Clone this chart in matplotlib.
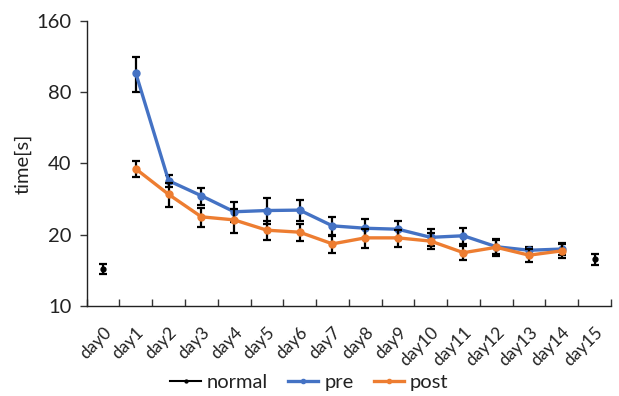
import matplotlib
matplotlib.use("Agg")
import matplotlib.pyplot as plt
import numpy as np

days = ["day0", "day1", "day2", "day3", "day4", "day5", "day6", "day7",
        "day8", "day9", "day10", "day11", "day12", "day13", "day14", "day15"]
normal = [14.4] + [np.nan] * 14 + [15.75]
normal_err = [0.7] + [np.nan] * 14 + [0.9]
pre = [np.nan, 96, 33.8, 29.2, 25.0, 25.3, 25.4, 21.8, 21.3, 21.1, 19.5, 19.8, 17.8, 17.2, 17.4, np.nan]
pre_err = [np.nan, 16, 2.0, 2.4, 2.4, 3.2, 2.6, 2.0, 1.9, 1.8, 1.6, 1.5, 1.2, 0.6, 1.0, np.nan]
post = [np.nan, 37.9, 29.6, 23.8, 23.1, 20.9, 20.5, 18.3, 19.4, 19.4, 18.8, 16.8, 17.7, 16.4, 17.1, np.nan]
post_err = [np.nan, 3.0, 3.5, 2.2, 2.7, 1.9, 1.7, 1.6, 1.8, 1.6, 1.45, 1.1, 1.4, 1.0, 1.2, np.nan]
yticks = [10, 20, 40, 80, 160]

plt.rcParams['font.family'] = ['Lato', 'DejaVu Sans']

fig = plt.figure(figsize=(6.19, 3.96), dpi=100)
ax = fig.add_axes([0.140, 0.227, 0.847, 0.721])

x = np.arange(len(days))
blue = "#4472C4"
orange = "#ED7D31"

def series(vals, errs, color, label, z):
    ax.errorbar(x, vals, yerr=errs, fmt='none', ecolor='black', elinewidth=1.6,
                capsize=3, capthick=1.6, zorder=z)
    ax.plot(x, vals, color=color, lw=2.4, marker='o', ms=5, label=label, zorder=z + 1)

series(pre, pre_err, blue, "pre", 3)
series(post, post_err, orange, "post", 5)
ax.errorbar(x, normal, yerr=normal_err, fmt='none', ecolor='black', elinewidth=1.6,
            capsize=3, capthick=1.6, zorder=7)
ax.plot(x, normal, color='black', lw=1.5, marker='o', ms=3.5, label="normal", zorder=8)

ax.set_yscale('log', base=2)
ax.set_ylim(10, 160)
ax.set_yticks(yticks)
ax.set_yticklabels([str(t) for t in yticks], fontsize=14.5)
ax.yaxis.set_minor_locator(matplotlib.ticker.NullLocator())
ax.tick_params(axis='y', direction='out', length=5, width=1, pad=6, colors='#333333', labelcolor='#222222')

ax.set_xlim(-0.5, len(days) - 0.5)
ax.set_xticks(np.arange(len(days) + 1) - 0.5)
ax.set_xticklabels([])
ax.set_xticks(x, minor=True)
ax.set_xticklabels(days, minor=True, rotation=45, ha='right', rotation_mode='anchor', fontsize=12.5)
ax.tick_params(axis='x', which='major', direction='in', length=5, width=1, colors='#333333')
ax.tick_params(axis='x', which='minor', length=0, pad=13, labelcolor='#222222')

for s in ['top', 'right']:
    ax.spines[s].set_visible(False)
for s in ['left', 'bottom']:
    ax.spines[s].set_color('#222222')
    ax.spines[s].set_linewidth(1)

ax.set_ylabel("time[s]", fontsize=14.5, labelpad=3, color='#222222')

handles, labels = ax.get_legend_handles_labels()
order = [labels.index("normal"), labels.index("pre"), labels.index("post")]
leg = fig.legend([handles[i] for i in order], [labels[i] for i in order], loc='center',
           bbox_to_anchor=(0.50, 0.035), ncol=3, frameon=False, fontsize=14.5,
           handlelength=1.5, handletextpad=0.3, columnspacing=1.0, markerscale=0.6)
for t in leg.get_texts():
    t.set_color('#222222')

fig.savefig("out.png", dpi=100)
